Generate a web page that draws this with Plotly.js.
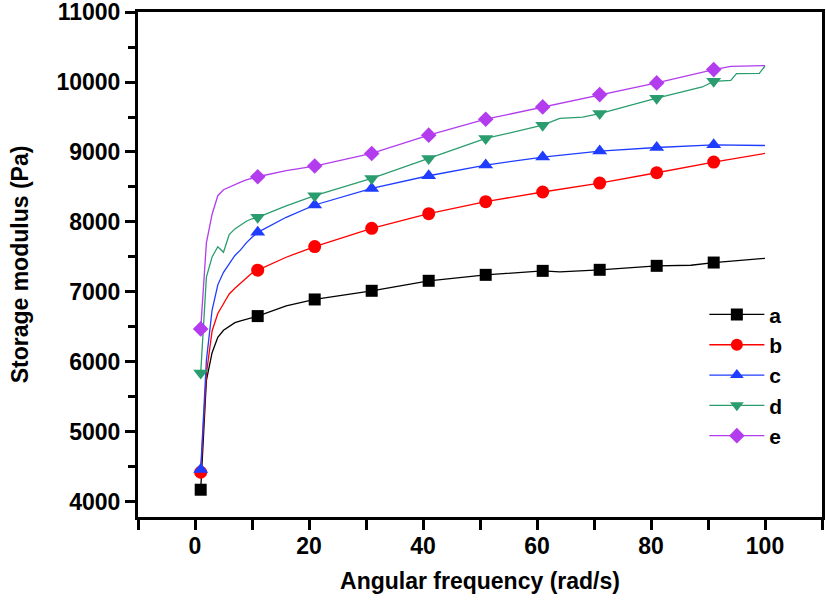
<!DOCTYPE html>
<html><head><meta charset="utf-8">
<script src="https://cdn.plot.ly/plotly-3.0.1.min.js"></script>
<style>html,body{margin:0;padding:0;background:#fff}#chart{width:826px;height:601px}</style>
</head><body><div id="chart"></div>
<script>
// ---- data ----
const seriesNames = ['a', 'b', 'c', 'd', 'e'];
const markerFreqs = [1, 11, 21, 31, 41, 51, 61, 71, 81, 91];

const freqA = [1,2,3,4,5,6,7,8,9,10,11,16,21,31,41,51,61,64,71,81,87,91,100];
const modA  = [4170,5735,6130,6350,6450,6510,6560,6585,6610,6630,6653,6800,6891,7015,7158,7243,7300,7285,7315,7372,7380,7419,7480];

const freqB = [1,2,3,4,5,6,7,8,9,10,11,16,21,31,41,51,61,71,81,91,100];
const modB  = [4420,5830,6440,6690,6830,6970,7050,7125,7200,7270,7310,7495,7647,7908,8118,8290,8428,8556,8703,8856,8979];

const freqC = [1,2,3,4,5,6,7,8,9,10,11,16,21,31,41,51,61,71,81,91,100];
const modC  = [4460,6020,6740,7100,7280,7400,7520,7600,7700,7780,7851,8066,8242,8479,8660,8813,8927,9013,9064,9103,9093];

const freqD = [1,2,3,4,5,6,7,8,9,10,11,16,21,31,41,51,61,64,68,71,81,87,89,91,94,95,99,100];
const modD  = [5840,7210,7500,7645,7566,7820,7900,7960,8010,8045,8066,8228,8375,8622,8907,9193,9383,9480,9500,9550,9769,9898,9930,10010,10025,10120,10125,10230];

const freqE = [1,2,3,4,5,6,7,8,9,10,11,16,21,31,41,51,61,71,81,91,94,100];
const modE  = [6470,7700,8110,8375,8460,8500,8540,8570,8600,8625,8646,8732,8799,8979,9241,9469,9645,9821,9988,10178,10225,10235];

const xTitle = 'Angular frequency (rad/s)';
const yTitle = 'Storage modulus (Pa)';

// ---- styling ----
const seriesX = [freqA, freqB, freqC, freqD, freqE];
const seriesY = [modA, modB, modC, modD, modE];
const colors  = ['#000000', '#ff0000', '#1f3dff', '#2a9d6e', '#b23cee'];
const symbols = ['square', 'circle', 'triangle-up', 'triangle-down', 'diamond'];
const msizes  = [12, 13, 13, 13, 12];

const traces = seriesNames.map((name, i) => ({
  type: 'scatter',
  mode: 'lines+markers',
  name: name,
  x: seriesX[i],
  y: seriesY[i],
  line: {color: colors[i], width: 1.3},
  marker: {
    symbol: symbols[i],
    color: colors[i],
    opacity: 1,
    size: seriesX[i].map(v => markerFreqs.includes(v) ? msizes[i] : 0),
    line: {width: 0}
  }
}));

const boldFont = {family: 'Liberation Sans, Arial, sans-serif', size: 23, color: '#000', weight: 'bold'};
const legendFont = {family: 'Liberation Sans, Arial, sans-serif', size: 21, color: '#000', weight: 'bold'};

const layout = {
  width: 826, height: 601,
  margin: {l: 138, r: 4, t: 12, b: 84},
  paper_bgcolor: '#fff', plot_bgcolor: '#fff',
  font: boldFont,
  showlegend: true,
  legend: {
    x: 0.828, xanchor: 'left', y: 0.441, yanchor: 'top',
    itemsizing: 'constant', itemwidth: 55,
    font: legendFont, bgcolor: 'rgba(0,0,0,0)', borderwidth: 0
  },
  xaxis: {
    range: [-10, 110], tick0: 0, dtick: 20,
    ticks: 'outside', ticklen: 10, tickwidth: 3, tickcolor: '#000',
    ticklabelstandoff: -4,
    minor: {dtick: 10, ticks: 'outside', ticklen: 10, tickwidth: 3, tickcolor: '#000'},
    showline: true, linewidth: 3, linecolor: '#000', mirror: true,
    showgrid: false, zeroline: false,
    tickfont: boldFont,
    title: {text: xTitle, font: boldFont, standoff: 16}
  },
  yaxis: {
    range: [3780, 11002], tick0: 0, dtick: 1000,
    tickformat: 'd', exponentformat: 'none',
    ticklabeloverflow: 'allow',
    ticks: 'outside', ticklen: 10, tickwidth: 3, tickcolor: '#000',
    minor: {dtick: 500, ticks: 'outside', ticklen: 7, tickwidth: 3, tickcolor: '#000'},
    showline: true, linewidth: 3, linecolor: '#000', mirror: true,
    showgrid: false, zeroline: false,
    tickfont: boldFont,
    title: {text: yTitle, font: boldFont, standoff: 22}
  }
};

Plotly.newPlot('chart', traces, layout, {displayModeBar: false, staticPlot: true}).then(gd => {
  // thin the legend sample lines to match the plotted line width
  gd.querySelectorAll('.legend .legendlines path').forEach(p => { p.style.strokeWidth = '1.3px'; });
});
</script>
</body></html>
